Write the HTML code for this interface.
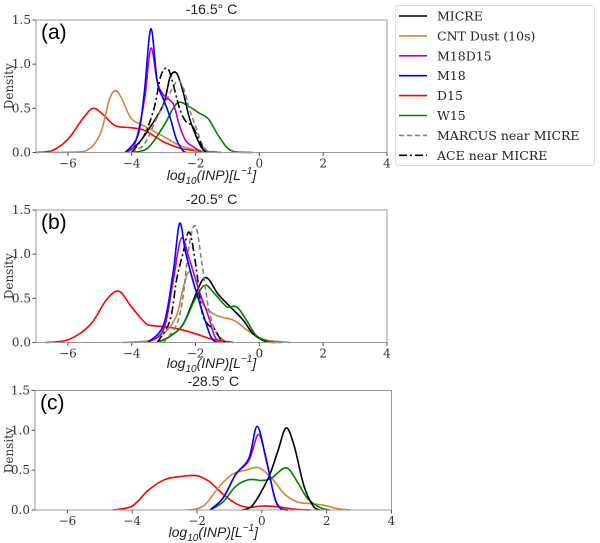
<!DOCTYPE html>
<html><head><meta charset="utf-8">
<style>
html,body{margin:0;padding:0;background:#fff;}
svg{display:block;}
.tick{font-family:"DejaVu Serif","Liberation Serif",serif;font-size:12px;fill:#333;}
.ttl{font-family:"Liberation Sans",sans-serif;font-size:14px;fill:#222;}
.xl{font-family:"Liberation Sans",sans-serif;font-size:14px;fill:#222;font-style:italic;}
.pl{font-family:"Liberation Sans",sans-serif;font-size:21px;fill:#000;}
.lg{font-family:"DejaVu Serif","Liberation Serif",serif;font-size:12.5px;fill:#222;}
</style></head>
<body>
<svg id="chart" width="600" height="543" viewBox="0 0 600 543"></svg>
<script>
// Data: series curves as [log10 INP, density] samples
const seriesNames = ["MICRE","CNT Dust (10s)","M18D15","M18","D15","W15","MARCUS near MICRE","ACE near MICRE"];
const xTicks = [-6,-4,-2,0,2,4];
const yTicks = [0.0,0.5,1.0,1.5];
const panelTitles = ["-16.5° C","-20.5° C","-28.5° C"];
const panelLetters = ["(a)","(b)","(c)"];

const panelA = {
 "D15":[[-7,0],[-6.5,0.02],[-6,0.15],[-5.5,0.4],[-5.2,0.5],[-4.9,0.43],[-4.5,0.3],[-4,0.28],[-3.6,0.25],[-3,0.12],[-2.5,0.05],[-2,0.02],[-1.2,0]],
 "CNT Dust (10s)":[[-6.5,0],[-5.5,0.01],[-5,0.2],[-4.7,0.6],[-4.5,0.7],[-4.3,0.6],[-4,0.38],[-3.5,0.28],[-3,0.18],[-2.5,0.08],[-2,0.03],[-1.5,0]],
 "W15":[[-4,0],[-3.5,0.05],[-3,0.3],[-2.7,0.5],[-2.5,0.57],[-2.2,0.52],[-1.9,0.45],[-1.6,0.38],[-1.3,0.2],[-1,0.05],[-0.7,0.005],[-0.2,0]],
 "MICRE":[[-4.2,0],[-3.8,0.1],[-3.4,0.3],[-3,0.55],[-2.8,0.85],[-2.6,0.9],[-2.4,0.7],[-2.2,0.4],[-2,0.2],[-1.8,0.05],[-1.6,0]],
 "MARCUS near MICRE":[[-4,0],[-3.6,0.1],[-3.2,0.4],[-2.9,0.6],[-2.6,0.8],[-2.4,0.75],[-2.2,0.5],[-2,0.3],[-1.8,0.1],[-1.6,0]],
 "ACE near MICRE":[[-4,0],[-3.6,0.2],[-3.3,0.5],[-3.1,0.85],[-2.95,0.95],[-2.8,0.9],[-2.5,0.5],[-2.3,0.35],[-2.1,0.3],[-1.9,0.15],[-1.7,0]],
 "M18D15":[[-4.2,0],[-3.9,0.1],[-3.6,0.6],[-3.4,1.18],[-3.2,0.8],[-3,0.65],[-2.7,0.55],[-2.5,0.3],[-2.3,0.13],[-2.0,0.05],[-1.8,0]],
 "M18":[[-4.2,0],[-3.8,0.2],[-3.6,0.7],[-3.4,1.4],[-3.2,0.8],[-3,0.6],[-2.8,0.4],[-2.6,0.15],[-2.4,0.02],[-2.3,0]]
};
const panelB = {
 "D15":[[-6.7,0],[-6,0.03],[-5.3,0.2],[-4.8,0.48],[-4.4,0.58],[-4,0.4],[-3.5,0.2],[-3,0.18],[-2.5,0.15],[-2,0.1],[-1.5,0.04],[-0.8,0]],
 "CNT Dust (10s)":[[-4.3,0],[-3.5,0.02],[-3,0.1],[-2.6,0.3],[-2.4,0.6],[-2.2,0.8],[-2,0.6],[-1.7,0.4],[-1.3,0.3],[-0.8,0.25],[-0.3,0.12],[0.2,0.03],[1,0]],
 "MICRE":[[-3.2,0],[-2.8,0.07],[-2.4,0.2],[-2.1,0.45],[-1.8,0.7],[-1.6,0.72],[-1.3,0.55],[-0.9,0.4],[-0.5,0.25],[-0.2,0.1],[0.2,0.01],[0.5,0]],
 "W15":[[-3.2,0],[-2.8,0.07],[-2.4,0.2],[-2.0,0.5],[-1.7,0.65],[-1.4,0.55],[-1.0,0.4],[-0.7,0.4],[-0.4,0.25],[-0.1,0.08],[0.3,0.01],[0.7,0]],
 "MARCUS near MICRE":[[-3,0],[-2.6,0.2],[-2.4,0.5],[-2.2,1.1],[-2.0,1.32],[-1.8,0.9],[-1.6,0.4],[-1.4,0.15],[-1.2,0.05],[-1,0]],
 "ACE near MICRE":[[-3.2,0],[-2.8,0.25],[-2.6,0.7],[-2.4,1.0],[-2.2,1.25],[-2,0.9],[-1.8,0.35],[-1.6,0.2],[-1.4,0.15],[-1.2,0.03],[-1,0]],
 "M18D15":[[-3.5,0],[-3,0.15],[-2.7,0.7],[-2.45,1.18],[-2.2,0.95],[-1.9,0.6],[-1.6,0.3],[-1.4,0.07],[-1.2,0]],
 "M18":[[-3.5,0],[-3,0.2],[-2.7,0.8],[-2.5,1.35],[-2.3,1.0],[-2,0.6],[-1.7,0.25],[-1.5,0.05],[-1.3,0]]
};
const panelC = {
 "D15":[[-4.6,0],[-4,0.05],[-3.5,0.25],[-3,0.38],[-2.5,0.42],[-2,0.43],[-1.6,0.35],[-1.2,0.2],[-0.8,0.08],[-0.4,0.03],[0,0.05],[0.5,0.04],[1,0.01],[1.5,0]],
 "CNT Dust (10s)":[[-2.3,0],[-1.8,0.05],[-1.3,0.3],[-0.9,0.45],[-0.5,0.5],[-0.1,0.53],[0.3,0.4],[0.7,0.2],[1.1,0.1],[1.5,0.08],[1.9,0.06],[2.3,0.02],[2.7,0]],
 "W15":[[-1.6,0],[-1.2,0.1],[-0.8,0.3],[-0.4,0.38],[0,0.37],[0.3,0.4],[0.75,0.53],[1.1,0.35],[1.4,0.15],[1.8,0.03],[2.1,0]],
 "MICRE":[[-0.6,0],[-0.3,0.05],[0.2,0.4],[0.5,0.75],[0.75,1.03],[1.0,0.8],[1.3,0.3],[1.6,0.04],[1.8,0]],
 "M18D15":[[-1.6,0],[-1.2,0.15],[-0.8,0.45],[-0.4,0.62],[-0.1,0.95],[0.15,0.6],[0.4,0.15],[0.6,0.02],[0.8,0]],
 "M18":[[-1.6,0],[-1.2,0.15],[-0.8,0.45],[-0.4,0.65],[-0.15,1.05],[0.1,0.7],[0.4,0.15],[0.6,0.01],[0.8,0]]
};
const panelData = [panelA, panelB, panelC];

const styles = {
 "MICRE":{c:"#000",d:""},
 "CNT Dust (10s)":{c:"#cd853f",d:""},
 "M18D15":{c:"#c000c0",d:""},
 "M18":{c:"#0000ff",d:""},
 "D15":{c:"#ff0000",d:""},
 "W15":{c:"#008000",d:""},
 "MARCUS near MICRE":{c:"#808080",d:"5,3"},
 "ACE near MICRE":{c:"#000",d:"8,3,2,3"}
};
const panels = [
 {l:36,r:387,t:20,b:152.5,title:14,xl:180},
 {l:36,r:387,t:210,b:342.5,title:204,xl:368},
 {l:35,r:391.5,t:390.5,b:510,title:386,xl:537}
];
const NS="http://www.w3.org/2000/svg";
const svg=document.getElementById('chart');
function mk(tag,attrs,parent){const e=document.createElementNS(NS,tag);for(const k in attrs)e.setAttribute(k,attrs[k]);(parent||svg).appendChild(e);return e;}
function spline(pts){
 let d="M"+pts[0][0].toFixed(1)+","+pts[0][1].toFixed(1);
 for(let i=0;i<pts.length-1;i++){
  const p0=pts[Math.max(0,i-1)],p1=pts[i],p2=pts[i+1],p3=pts[Math.min(pts.length-1,i+2)];
  const c1=[p1[0]+(p2[0]-p0[0])/6,p1[1]+(p2[1]-p0[1])/6];
  const c2=[p2[0]-(p3[0]-p1[0])/6,p2[1]-(p3[1]-p1[1])/6];
  const b=Math.max(p1[1],p2[1]);
  c1[1]=Math.min(c1[1],b);c2[1]=Math.min(c2[1],b);
  d+=" C"+c1[0].toFixed(1)+","+c1[1].toFixed(1)+" "+c2[0].toFixed(1)+","+c2[1].toFixed(1)+" "+p2[0].toFixed(1)+","+p2[1].toFixed(1);
 }
 return d;
}
function tspan(parent,txt,attrs){const t=mk('tspan',attrs||{},parent);t.textContent=txt;return t;}
panels.forEach((P,pi)=>{
 const g=mk('g',{});
 
 
 const xs=v=>P.l+(v+7)/11*(P.r-P.l);
 const ys=v=>P.b-v/1.5*(P.b-P.t);
 const data=panelData[pi];
 Object.keys(data).forEach(name=>{
  const pts=data[name].map(p=>[xs(p[0]),ys(p[1])]);
  const s=styles[name];
  const path=mk('path',{d:spline(pts),fill:"none",stroke:s.c,"stroke-width":1.6,"stroke-dasharray":s.d||"none"},g);
  
  
 });
 const frame=mk('rect',{x:P.l,y:P.t,width:P.r-P.l,height:P.b-P.t,fill:"none",stroke:"#999","stroke-width":1},g);
 
 
 xTicks.forEach(v=>{
  mk('line',{x1:xs(v),x2:xs(v),y1:P.b,y2:P.b+3.5,stroke:"#555"},g);
  const t=mk('text',{x:xs(v),y:P.b+15,class:"tick","text-anchor":"middle"},g);
  t.textContent=(v<0?"\u2212"+(-v):v);
  
  
 });
 yTicks.forEach(v=>{
  mk('line',{x1:P.l-3.5,x2:P.l,y1:ys(v),y2:ys(v),stroke:"#555"},g);
  const t=mk('text',{x:P.l-5,y:ys(v)+4,class:"tick","text-anchor":"end"},g);
  t.textContent=v.toFixed(1);
  
  
 });
 const tt=mk('text',{x:(P.l+P.r)/2,y:P.title,class:"ttl","text-anchor":"middle"},g);
 tt.textContent=panelTitles[pi];
 
 
 const pl=mk('text',{x:P.l+5,y:P.t+19,class:"pl"},g);
 pl.textContent=panelLetters[pi];
 
 
 const yl=mk('text',{x:0,y:0,class:"tick","text-anchor":"middle",transform:"translate(13,"+((P.t+P.b)/2)+") rotate(-90)"},g);
 yl.textContent="Density";
 
 
 const xl=mk('text',{x:(P.l+P.r)/2,y:P.xl,class:"xl","text-anchor":"middle"},g);
 tspan(xl,"log");
 tspan(xl,"10",{"font-size":"10",dy:"4"});
 tspan(xl,"(INP)[L",{dy:"-4"});
 tspan(xl,"\u22121",{"font-size":"10",dy:"-6"});
 tspan(xl,"]",{dy:"6"});
 
 
});
// legend
const lg=mk('g',{});


mk('rect',{x:395.5,y:5.5,width:199,height:160,rx:3,fill:"#fff",stroke:"#ddd"},lg);
seriesNames.forEach((n,i)=>{
 const y=16+i*19.9;
 const s=styles[n];
 const e=mk('g',{},lg);
 
 
 mk('line',{x1:399,x2:427,y1:y,y2:y,stroke:s.c,"stroke-width":1.6,"stroke-dasharray":s.d||"none"},e);
 const t=mk('text',{x:437,y:y+4.5,class:"lg"},e);
 t.textContent=n;
});
</script>
</body></html>
